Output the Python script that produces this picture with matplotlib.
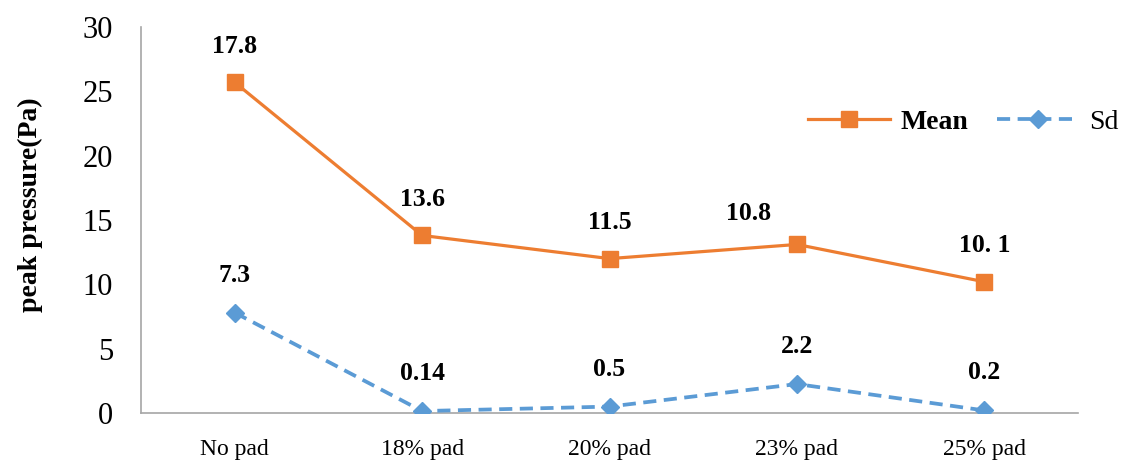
import matplotlib.pyplot as plt

# 数据
categories = ['No pad', '18% pad', '20% pad', '23% pad', '25% pad']
mean_values = [25.7, 13.8, 12.0, 13.1, 10.2]
sd_values = [7.8, 0.15, 0.5, 2.25, 0.2]
mean_labels = ['17.8', '13.6', '11.5', '10.8', '10. 1']
sd_labels = ['7.3', '0.14', '0.5', '2.2', '0.2']

plt.rcParams['font.family'] = 'Liberation Serif'

fig = plt.figure(figsize=(11.21, 4.61), dpi=100)
ax = fig.add_axes([0.1258, 0.1041, 0.8359, 0.8373])

x = list(range(len(categories)))
orange = '#ED7D31'
blue = '#5B9BD5'

ax.plot(x, mean_values, color=orange, linewidth=2.3, marker='s', markersize=12,
        label='Mean', zorder=3)
ax.plot(x, sd_values, color=blue, linewidth=2.7, linestyle=(0, (3.5, 2)),
        marker='D', markersize=9, label='Sd', zorder=3)

# 数据标签
for i, (v, t) in enumerate(zip(mean_values, mean_labels)):
    dx = -35 if i == 3 else 0
    dy = 22 if i == 3 else 26
    ax.annotate(t, (i, v), xytext=(dx, dy), textcoords='offset points',
                ha='center', va='center', fontsize=18.5, fontweight='bold')
for i, (v, t) in enumerate(zip(sd_values, sd_labels)):
    ax.annotate(t, (i, v), xytext=(0, 27), textcoords='offset points',
                ha='center', va='center', fontsize=18.5, fontweight='bold')

ax.set_xlim(-0.5, len(categories) - 0.5)
ax.set_ylim(0, 30)
ax.set_yticks(range(0, 31, 5))
ax.set_xticks(x)
ax.set_xticklabels(categories, fontsize=17)
ax.tick_params(axis='y', labelsize=22, length=0, pad=20)
ax.tick_params(axis='x', length=0, pad=19)
ax.set_ylabel('peak pressure(Pa)', fontsize=20, fontweight='bold')
ax.yaxis.set_label_coords(-0.105, 0.539)

for side in ['top', 'right']:
    ax.spines[side].set_visible(False)
for side in ['left', 'bottom']:
    ax.spines[side].set_color('#A6A6A6')
    ax.spines[side].set_linewidth(1.2)

leg = ax.legend(loc='center left', bbox_to_anchor=(0.712, 0.754), ncol=2,
                frameon=False, fontsize=20, handlelength=2.95, columnspacing=1.05,
                handletextpad=0.36, borderpad=0, borderaxespad=0)
leg.get_texts()[0].set_fontweight('bold')

plt.savefig('out.png', dpi=100)
plt.close()
